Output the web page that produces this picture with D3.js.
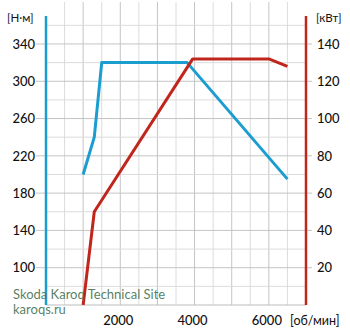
<!DOCTYPE html>
<html><head><meta charset="utf-8">
<script src="https://cdn.jsdelivr.net/npm/d3@7"></script>
<style>body{margin:0;background:#fff}svg{display:block}text{font-family:Lato,"DejaVu Sans",sans-serif}</style>
</head><body><svg id="c" width="350" height="335"></svg>
<script>
const rpmTorque = [1000, 1300, 1500, 3800, 6500];
const torqueNm  = [200, 240, 320, 320, 195];
const rpmPower  = [1000, 1300, 3950, 6000, 6500];
const powerKw   = [0, 50, 132, 132, 128];
const xTicks = [2000, 4000, 6000];
const leftTicks = [100, 140, 180, 220, 260, 300, 340];
const rightTicks = [20, 40, 60, 80, 100, 120, 140];

const svg = d3.select("#c");
const x = d3.scaleLinear().domain([0, 7000]).range([46, 306]);
const yL = d3.scaleLinear().domain([60, 370]).range([305, 16]);
const yR = d3.scaleLinear().domain([0, 155]).range([305, 16]);
const blue = "#1c9dd0", red = "#c1261d";

// grid
const vg = d3.range(500, 7000, 500);
svg.append("g").selectAll("line").data(vg).join("line")
  .attr("x1", d => x(d)).attr("x2", d => x(d)).attr("y1", 2).attr("y2", 305)
  .attr("stroke", d => d % 1000 === 0 ? "#c4c4c4" : "#dcdcdc").attr("stroke-width", 1);
const hg = d3.range(80, 370, 20);
svg.append("g").selectAll("line").data(hg).join("line")
  .attr("x1", 46).attr("x2", 306).attr("y1", d => yL(d)).attr("y2", d => yL(d))
  .attr("stroke", d => (d - 100) % 40 === 0 ? "#c4c4c4" : "#dcdcdc").attr("stroke-width", 1);
// ticks
svg.append("g").selectAll("line").data(leftTicks).join("line")
  .attr("x1", 36).attr("x2", 46).attr("y1", d => yL(d)).attr("y2", d => yL(d)).attr("stroke", "#c4c4c4");
svg.append("g").selectAll("line").data(rightTicks).join("line")
  .attr("x1", 306).attr("x2", 312).attr("y1", d => yR(d)).attr("y2", d => yR(d)).attr("stroke", "#c4c4c4");
// bottom line
svg.append("line").attr("x1", 46).attr("x2", 306).attr("y1", 305).attr("y2", 305).attr("stroke", "#bdbdbd");

// axes lines
svg.append("line").attr("x1", 46).attr("x2", 46).attr("y1", 16).attr("y2", 305).attr("stroke", blue).attr("stroke-width", 2.5);
svg.append("line").attr("x1", 306).attr("x2", 306).attr("y1", 16).attr("y2", 305).attr("stroke", red).attr("stroke-width", 2.5);

// data lines
const lt = d3.line().x(d => x(d[0])).y(d => yL(d[1]));
const lp = d3.line().x(d => x(d[0])).y(d => yR(d[1]));
svg.append("path").attr("d", lt(d3.zip(rpmTorque, torqueNm))).attr("fill", "none")
  .attr("stroke", blue).attr("stroke-width", 3).attr("stroke-linejoin", "round");
svg.append("path").attr("d", lp(d3.zip(rpmPower, powerKw))).attr("fill", "none")
  .attr("stroke", red).attr("stroke-width", 3).attr("stroke-linejoin", "round");

// labels
const lab = svg.append("g").attr("font-size", 13).attr("fill", "#111").attr("font-weight", 500);
lab.selectAll(".l").data(leftTicks).join("text").attr("x", 35).attr("y", d => yL(d)).attr("dy", "0.36em")
  .attr("text-anchor", "end").text(d => d);
lab.selectAll(".r").data(rightTicks).join("text").attr("x", 317).attr("y", d => yR(d)).attr("dy", "0.36em")
  .attr("text-anchor", "start").text(d => d);
lab.selectAll(".x").data(xTicks).join("text").attr("x", d => x(d) - 2).attr("y", 325)
  .attr("text-anchor", "middle").text(d => d);
svg.append("text").attr("x", 290).attr("y", 325).attr("font-size", 12.5).attr("fill", "#111").text("[об/мин]");
svg.append("text").attr("x", 7).attr("y", 22).attr("font-size", 11.5).attr("fill", "#111").text("[Н·м]");
svg.append("text").attr("x", 316).attr("y", 22).attr("font-size", 11.5).attr("fill", "#111").text("[кВт]");

// watermark
svg.append("text").attr("x", 13).attr("y", 299).attr("font-size", 13).attr("fill", "#4d7757").attr("fill-opacity", 0.95).text("Skoda Karoq Technical Site");
svg.append("text").attr("x", 13).attr("y", 314).attr("font-size", 13).attr("fill", "#4d7757").attr("fill-opacity", 0.95).text("karoqs.ru");
</script></body></html>
